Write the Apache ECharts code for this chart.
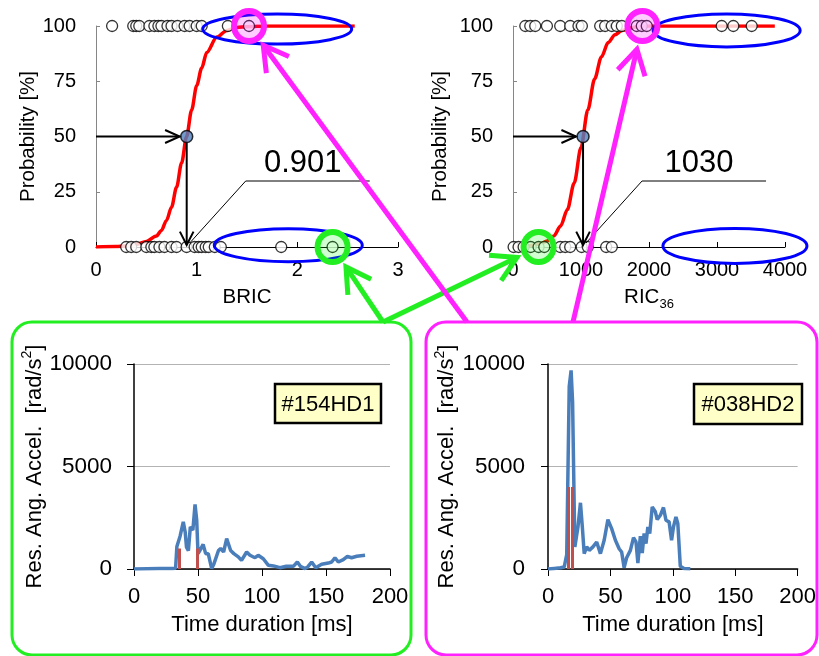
<!DOCTYPE html>
<html>
<head>
<meta charset="utf-8">
<script src="https://cdn.jsdelivr.net/npm/echarts@6/dist/echarts.min.js"></script>
<style>
  html, body { margin: 0; padding: 0; background: #fff; }
  #main { width: 819px; height: 656px; }
</style>
</head>
<body>
<div id="main"></div>
<script>
  // ---- data ----
  // top row (100 %) = injured, bottom row (0 %) = not injured
  var bricInjured = [0.16, 0.37, 0.40, 0.43, 0.53, 0.58, 0.62, 0.65, 0.71, 0.75, 0.81, 0.88, 0.93, 1.00, 1.05, 1.31, 1.52];
  var bricSafe = [0.30, 0.35, 0.40, 0.50, 0.55, 0.58, 0.63, 0.68, 0.75, 0.80, 0.90, 0.98, 1.02, 1.05, 1.09, 1.12, 1.18, 1.24, 1.84, 2.35];
  var ricInjured = [181, 254, 327, 499, 694, 841, 963, 1013, 1282, 1355, 1453, 1527, 1600, 1820, 1894, 1967, 3069, 3240, 3510];
  var ricSafe = [9, 82, 156, 260, 376, 460, 694, 768, 841, 1010, 1100, 1370, 1453];

  // fitted probability curves
  var bricCurveX = [0, 0.2, 0.3, 0.4, 0.5, 0.6, 0.65, 0.7, 0.75, 0.8, 0.85, 0.9, 0.95, 1.0, 1.05, 1.1, 1.2, 1.3, 1.4, 1.5, 1.7, 2.57];
  var bricCurveP = [0, 0.2, 0.5, 1.2, 2.5, 5, 7.5, 12, 18, 27, 38, 50, 62, 73, 81, 88, 95, 98, 99.3, 99.7, 100, 100];
  var ricCurveX = [0, 200, 400, 500, 600, 700, 800, 900, 1000, 1100, 1200, 1300, 1400, 1500, 1600, 1800, 2000, 3850];
  var ricCurveP = [0.1, 0.4, 1.4, 2.7, 5, 9.5, 17, 29, 45, 62, 76, 86, 92.5, 96, 98, 99.5, 100, 100];

  var bric50 = 0.901;
  var ric50 = 1030;

  // highlighted cases: [#154HD1, #038HD2]
  var caseNames = ['#154HD1', '#038HD2'];
  var caseBric = [2.35, 1.52];
  var caseRic = [376, 1903];

  // #154HD1 resultant angular acceleration
  var t154 = [0, 10, 20, 30, 32.5, 33.5, 36, 38.5, 40, 41, 42.5, 44, 46, 47.7, 49, 50, 51.5, 54, 56, 58, 60.7, 62.5, 66, 67.7, 70, 72.4, 73.7, 75.5, 78, 81.5, 84, 88, 90.6, 94.5, 97, 101, 105, 109, 114, 119, 124.5, 127.6, 130, 133.6, 135.7, 138.8, 142, 146.6, 151.8, 154.4, 157, 159.6, 163.5, 166.7, 170, 174, 180.5];
  var a154 = [0, 10, 20, 30, 40, 1100, 1600, 2300, 1800, 1070, 900, 2050, 1900, 3150, 2380, 750, 900, 1200, 750, 750, 20, 260, 900, 1000, 830, 1480, 1560, 900, 750, 590, 420, 830, 670, 550, 670, 500, 180, 150, 65, 130, 130, 340, 130, 20, 100, 340, 65, 230, 290, 340, 550, 340, 460, 620, 550, 620, 670];
  var window154 = [35.3, 49.6];
  var windowTop154 = 1000;

  // #038HD2 resultant angular acceleration
  var t038 = [0, 5, 10, 13, 15, 17, 18.5, 19.7, 21.5, 22.5, 24, 26, 27.5, 29, 31, 33, 36, 39, 42, 45, 48, 51, 54, 57, 59, 61, 63, 66, 68.5, 70.5, 72, 74, 75.5, 77, 78.5, 80, 81.5, 83.5, 86, 87.5, 90, 92.5, 94.5, 97, 99, 100.5, 102.5, 104, 106, 109, 114];
  var a038 = [0, 30, 60, 100, 700, 8900, 9690, 8150, 1080, 1150, 2050, 3230, 2050, 750, 1080, 910, 1080, 1320, 750, 1400, 2410, 1970, 1400, 990, 830, 65, 550, 910, 1530, 1320, 290, 1600, 780, 1730, 1240, 2050, 1730, 3030, 2790, 2410, 2620, 3000, 2380, 2300, 1400, 2050, 2540, 2220, 130, 20, 10];
  var window038 = [16.2, 19.8];
  var windowTop038 = 4000;

  var font = "'Liberation Sans', Arial, sans-serif";
  var chart = echarts.init(document.getElementById('main'));

  function pairs(xs, ys) {
    return xs.map(function (x, i) { return [x, ys[i]]; });
  }
  function row(xs, p) {
    return xs.map(function (x) { return [x, p]; });
  }
  // plain numbers, no thousands separator
  function plain(v) {
    return String(v);
  }

  function probAxis(gi, gap) {
    return {
      type: 'value', gridIndex: gi, min: 0, max: 100, interval: 25,
      name: 'Probability [%]', nameLocation: 'middle', nameRotate: 90, nameGap: gap,
      nameTextStyle: { fontSize: 20.5, color: '#000', fontFamily: font },
      axisLine: { show: true, lineStyle: { color: '#868686', width: 1 } },
      axisTick: { show: true, inside: true, length: 4, lineStyle: { color: '#868686' } },
      axisLabel: { fontSize: 20, color: '#000', margin: 20, fontFamily: font, formatter: plain },
      splitLine: { show: false }
    };
  }
  function accelAxis(gi, gap, margin) {
    return {
      type: 'value', gridIndex: gi, min: 0, max: 10000, interval: 5000,
      name: '{m|Res. Ang. Accel.  [rad/s}{s|2}{m|]}', nameLocation: 'middle', nameRotate: 90, nameGap: gap,
      nameTextStyle: {
        rich: {
          m: { fontSize: 22, color: '#000', fontFamily: font, lineHeight: 28 },
          s: { fontSize: 14, color: '#000', fontFamily: font, lineHeight: 28, verticalAlign: 'top' }
        }
      },
      axisLine: { show: true, lineStyle: { color: '#000', width: 1.5 } },
      axisTick: { show: true, length: 7, lineStyle: { color: '#000' } },
      axisLabel: { fontSize: 22.5, color: '#000', margin: margin, fontFamily: font, formatter: plain },
      splitLine: { show: true, lineStyle: { color: '#b3b3b3', width: 1 } }
    };
  }
  function timeAxis(gi) {
    return {
      type: 'value', gridIndex: gi, min: 0, max: 200, interval: 50,
      name: 'Time duration [ms]', nameLocation: 'middle', nameGap: 45,
      nameTextStyle: { fontSize: 22, color: '#000', fontFamily: font },
      axisLine: { show: true, lineStyle: { color: '#000', width: 1.5 } },
      axisTick: { show: true, length: 7, lineStyle: { color: '#000' } },
      axisLabel: { fontSize: 22, color: '#000', margin: 17, fontFamily: font, formatter: plain },
      splitLine: { show: false }
    };
  }

  var dotStyle = { color: '#fff', borderColor: '#000', borderWidth: 1.3 };

  function windowLines(ts, top) {
    return {
      silent: true, symbol: ['none', 'none'], animation: false,
      label: { show: false },
      lineStyle: { color: '#c0504d', width: 3, type: 'solid' },
      data: ts.map(function (t) { return [{ coord: [t, 0] }, { coord: [t, top] }]; })
    };
  }

  var option = {
    animation: false,
    backgroundColor: '#fff',
    grid: [
      { left: 96, top: 26, width: 302, height: 221 },
      { left: 513, top: 26, width: 272, height: 221 },
      { left: 134, top: 364, width: 256, height: 205 },
      { left: 548, top: 364, width: 254, height: 205 }
    ],
    xAxis: [
      {
        type: 'value', gridIndex: 0, min: 0, max: 3, interval: 1,
        name: 'BRIC', nameLocation: 'middle', nameGap: 40,
        nameTextStyle: { fontSize: 20.5, color: '#000', fontFamily: font },
        axisLine: { show: true, lineStyle: { color: '#000', width: 1 } },
        axisTick: { show: true, inside: true, length: 5, lineStyle: { color: '#000' } },
        axisLabel: { fontSize: 20, color: '#000', margin: 13, fontFamily: font, formatter: plain },
        splitLine: { show: false }
      },
      {
        type: 'value', gridIndex: 1, min: 0, max: 4000, interval: 1000,
        name: '{m|RIC}{s|36}', nameLocation: 'middle', nameGap: 36,
        nameTextStyle: {
          rich: {
            m: { fontSize: 20.5, color: '#000', fontFamily: font, lineHeight: 28 },
            s: { fontSize: 13, color: '#000', fontFamily: font, lineHeight: 28, verticalAlign: 'bottom' }
          }
        },
        axisLine: { show: true, lineStyle: { color: '#000', width: 1 } },
        axisTick: { show: true, inside: true, length: 5, lineStyle: { color: '#000' } },
        axisLabel: { fontSize: 20, color: '#000', margin: 13, fontFamily: font, formatter: plain },
        splitLine: { show: false }
      },
      timeAxis(2),
      timeAxis(3)
    ],
    yAxis: [
      probAxis(0, 50),
      probAxis(1, 62),
      accelAxis(2, 84, 22),
      accelAxis(3, 87, 23)
    ],
    series: [
      // BRIC
      { type: 'line', xAxisIndex: 0, yAxisIndex: 0, data: pairs(bricCurveX, bricCurveP), smooth: 0.3, smoothMonotone: 'x',
        showSymbol: false, lineStyle: { color: '#ff0000', width: 3.5 }, z: 2 },
      { type: 'scatter', xAxisIndex: 0, yAxisIndex: 0, data: row(bricInjured, 100), symbolSize: 11, itemStyle: dotStyle, z: 3 },
      { type: 'scatter', xAxisIndex: 0, yAxisIndex: 0, data: row(bricSafe, 0), symbolSize: 11, itemStyle: dotStyle, z: 3 },
      { type: 'scatter', xAxisIndex: 0, yAxisIndex: 0, data: [[bric50, 50]], symbolSize: 12,
        itemStyle: { color: '#4f81bd', borderColor: '#000', borderWidth: 1.5 }, z: 70 },
      // RIC36
      { type: 'line', xAxisIndex: 1, yAxisIndex: 1, data: pairs(ricCurveX, ricCurveP), smooth: 0.3, smoothMonotone: 'x',
        showSymbol: false, lineStyle: { color: '#ff0000', width: 3.5 }, z: 2 },
      { type: 'scatter', xAxisIndex: 1, yAxisIndex: 1, data: row(ricInjured, 100), symbolSize: 11, itemStyle: dotStyle, z: 3 },
      { type: 'scatter', xAxisIndex: 1, yAxisIndex: 1, data: row(ricSafe, 0), symbolSize: 11, itemStyle: dotStyle, z: 3 },
      { type: 'scatter', xAxisIndex: 1, yAxisIndex: 1, data: [[ric50, 50]], symbolSize: 12,
        itemStyle: { color: '#4f81bd', borderColor: '#000', borderWidth: 1.5 }, z: 70 },
      // time histories
      { type: 'line', xAxisIndex: 2, yAxisIndex: 2, data: pairs(t154, a154), showSymbol: false,
        lineStyle: { color: '#4a7ebb', width: 3.5 }, markLine: windowLines(window154, windowTop154) },
      { type: 'line', xAxisIndex: 3, yAxisIndex: 3, data: pairs(t038, a038), showSymbol: false,
        lineStyle: { color: '#4a7ebb', width: 3.5 }, markLine: windowLines(window038, windowTop038) }
    ]
  };

  chart.setOption(option);

  // ---- annotations, placed from the axes ----
  function px(gi, x, y) {
    return chart.convertToPixel({ gridIndex: gi }, [x, y]);
  }
  function head(tip, from, len, deg) {
    var dx = from[0] - tip[0], dy = from[1] - tip[1];
    var l = Math.sqrt(dx * dx + dy * dy);
    var ux = dx / l, uy = dy / l, a = deg * Math.PI / 180;
    var c = Math.cos(a), s = Math.sin(a);
    return [
      [tip[0] + len * (ux * c - uy * s), tip[1] + len * (ux * s + uy * c)],
      tip,
      [tip[0] + len * (ux * c + uy * s), tip[1] + len * (-ux * s + uy * c)]
    ];
  }
  function arrow(from, tip, color, width, len, deg) {
    return [
      { type: 'polyline', z: 60, shape: { points: [from, tip] }, style: { stroke: color, lineWidth: width, fill: null } },
      { type: 'polyline', z: 60, shape: { points: head(tip, from, len, deg) }, style: { stroke: color, lineWidth: width, fill: null, lineJoin: 'miter' } }
    ];
  }

  var g = [];

  // case frames
  g.push({ type: 'rect', z: 50, shape: { x: 12, y: 322, width: 399, height: 333, r: 20 },
    style: { fill: null, stroke: '#22ee22', lineWidth: 3 } });
  g.push({ type: 'rect', z: 50, shape: { x: 426, y: 322, width: 391, height: 333, r: 20 },
    style: { fill: null, stroke: '#ff22ff', lineWidth: 3 } });

  // case labels
  [[275, 384, 106, 39], [694, 384, 108, 40]].forEach(function (b, i) {
    g.push({ type: 'rect', z: 55, shape: { x: b[0], y: b[1], width: b[2], height: b[3] },
      style: { fill: '#ffffc8', stroke: '#000', lineWidth: 2.5 } });
    g.push({ type: 'text', z: 56, x: b[0] + b[2] / 2, y: b[1] + b[3] / 2 + 1,
      style: { text: caseNames[i], fontSize: 22, fontFamily: font, fill: '#000', align: 'center', verticalAlign: 'middle' } });
  });

  // threshold arrows + value callouts
  [[0, bric50, '0.901'], [1, ric50, '1030']].forEach(function (d) {
    var p = px(d[0], d[1], 50), a = px(d[0], 0, 50), b = px(d[0], d[1], 0);
    g = g.concat(arrow(a, [p[0] - 7, p[1]], '#000', 2, 16, 24));
    g = g.concat(arrow([p[0], p[1] + 6], [b[0], b[1] - 2], '#000', 2, 15, 27));
    var s = [b[0] + 3, b[1] - 4], e = [s[0] + 56, s[1] - 62];
    g.push({ type: 'polyline', z: 60, shape: { points: [s, e, [e[0] + 124, e[1]]] },
      style: { stroke: '#000', lineWidth: 1, fill: null } });
    g.push({ type: 'text', z: 60, x: e[0] + 57, y: e[1] - 18,
      style: { text: d[2], fontSize: 31, fontFamily: font, fill: '#000', align: 'center', verticalAlign: 'middle' } });
  });

  // blue ellipses round the high-value points
  [[0, 1.80, 98.6, 74.5, 15], [0, 1.91, 0.8, 74, 16.5], [1, 3142, 98, 73.5, 16.5], [1, 3264, 0.5, 72, 17.5]].forEach(function (e) {
    var c = px(e[0], e[1], e[2]);
    g.push({ type: 'ellipse', z: 58, shape: { cx: c[0], cy: c[1], rx: e[3], ry: e[4] },
      style: { fill: null, stroke: '#0000ff', lineWidth: 3 } });
  });

  // case markers and arrows from the case frames
  var green = '#22ee22', magenta = '#ff22ff';
  var marks = [
    { c: px(0, caseBric[0], 0), col: green, fill: 'rgba(0,255,0,0.18)', base: [383, 322] },
    { c: px(1, caseRic[0], 0), col: green, fill: 'rgba(0,255,0,0.18)', base: [383, 322] },
    { c: px(0, caseBric[1], 100), col: magenta, fill: 'rgba(255,0,255,0.2)', base: [467, 322] },
    { c: px(1, caseRic[1], 100), col: magenta, fill: 'rgba(255,0,255,0.2)', base: [573, 322] }
  ];
  marks.forEach(function (m) {
    g.push({ type: 'circle', z: 62, shape: { cx: m.c[0], cy: m.c[1], r: 15 },
      style: { fill: m.fill, stroke: m.col, lineWidth: 6 } });
    var dx = m.base[0] - m.c[0], dy = m.base[1] - m.c[1];
    var l = Math.sqrt(dx * dx + dy * dy);
    var tip = [m.c[0] + dx / l * 24, m.c[1] + dy / l * 24];
    g = g.concat(arrow(m.base, tip, m.col, 5, 28, 30));
  });

  chart.setOption({ graphic: { elements: g } });
</script>
</body>
</html>
